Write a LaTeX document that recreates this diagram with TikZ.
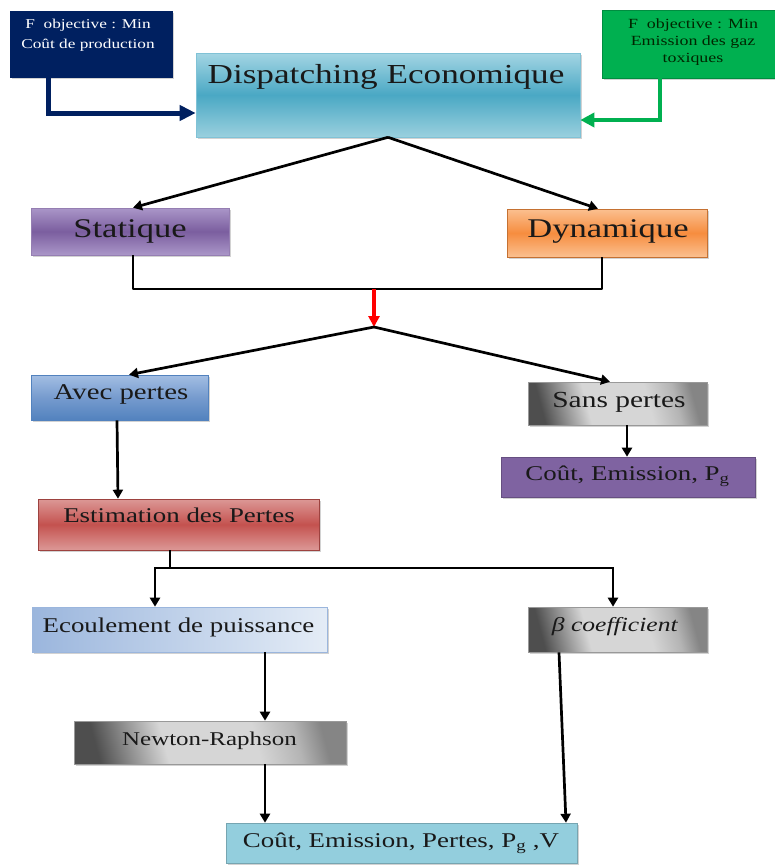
\documentclass[tikz,border=0pt]{standalone}
\usepackage{fontspec}
\setmainfont{Liberation Serif}[FakeStretch=1.28]
\usetikzlibrary{shadows,arrows.meta,calc}
\definecolor{navyc}{HTML}{002060}
\definecolor{greenc}{HTML}{00B050}
\definecolor{cyanL}{HTML}{A3D5E3}
\definecolor{cyanM}{HTML}{4AA8C4}
\definecolor{cyanB}{HTML}{9AD0DE}
\definecolor{purL}{HTML}{AA96C8}
\definecolor{purM}{HTML}{7B5E9F}
\definecolor{oraL}{HTML}{FBC090}
\definecolor{oraM}{HTML}{F68D3F}
\definecolor{bluL}{HTML}{A3BEE3}
\definecolor{bluM}{HTML}{769BCE}
\definecolor{bluB}{HTML}{5282BE}
\definecolor{redL}{HTML}{DC9896}
\definecolor{redM}{HTML}{C4524F}
\definecolor{ecoL}{HTML}{9BB6DD}
\definecolor{ecoR}{HTML}{E4ECF6}
\definecolor{cepc}{HTML}{7F63A1}
\definecolor{botc}{HTML}{93CEDD}
\definecolor{grayT}{HTML}{858585}
\definecolor{grayQ}{HTML}{B4B4B4}
\definecolor{grayC}{HTML}{D6D6D6}
\definecolor{grayP}{HTML}{8E8E8E}
\definecolor{grayD}{HTML}{4E4E4E}
\pgfdeclarehorizontalshading{grayshade}{100bp}{color(0bp)=(grayD); color(25bp)=(grayD);
  color(32bp)=(grayP); color(40bp)=(grayC); color(60bp)=(grayC); color(69bp)=(grayQ);
  color(75bp)=(grayT); color(100bp)=(grayT)}
\newcommand\myfs[1]{\fontsize{#1}{#1}\selectfont}
\begin{document}
\begin{tikzpicture}[x=1pt,y=-1pt,
  boxbase/.style={rectangle,inner sep=0pt,line width=0.6pt,
    drop shadow={shadow xshift=1.8pt,shadow yshift=-1.8pt,opacity=0.35}},
  graybox/.style={boxbase,draw=gray!80,shading=grayshade,shading angle=15},
  lbl/.style={inner sep=0pt,anchor=base,text=black!90},
  arr/.style={line width=2.7pt,black,-{Triangle[length=9pt,width=10pt]}},
  plain/.style={line width=2.7pt,black,line join=round},
  navyarr/.style={line width=5pt,navyc,-{Triangle[length=16pt,width=15pt]}},
  greenarr/.style={line width=4.5pt,greenc,-{Triangle[length=14pt,width=14pt]}},
  redarr/.style={line width=4pt,red,-{Triangle[length=11pt,width=11pt]}}]
\useasboundingbox (0,0) rectangle (774,865);
\fill[white] (0,0) rectangle (774,865);

% boxes
\node[boxbase,draw=navyc,fill=navyc,minimum width=162pt,minimum height=66pt] (navy) at (91,44) {};
\node[boxbase,draw=greenc!80!black,fill=greenc,minimum width=182pt,minimum height=68pt] (green) at (693,44) {};
\node[boxbase,draw=cyanM!70,top color=cyanL,bottom color=cyanB,middle color=cyanM,minimum width=384pt,minimum height=84pt] (main) at (388,95) {};
\node[boxbase,draw=purM!80,top color=purL,bottom color=purL,middle color=purM,minimum width=198pt,minimum height=47pt] (stat) at (130,231.5) {};
\node[boxbase,draw=oraM!80!black,top color=oraL,bottom color=oraL,middle color=oraM,minimum width=200pt,minimum height=48pt] (dyn) at (607,233) {};
\node[boxbase,draw=bluB,top color=bluL,bottom color=bluB,middle color=bluM,minimum width=177pt,minimum height=45pt] (avec) at (119.5,397.5) {};
\node[graybox,minimum width=179pt,minimum height=43pt] (sans) at (617.5,403.5) {};
\node[boxbase,draw=cepc!80!black,fill=cepc,minimum width=254pt,minimum height=40pt] (cep) at (628,477) {};
\node[boxbase,draw=redM!80!black,top color=redL,bottom color=redL,middle color=redM,minimum width=281pt,minimum height=51pt] (est) at (178.5,524.5) {};
\node[boxbase,draw=ecoL,left color=ecoL,right color=ecoR,minimum width=295pt,minimum height=45pt] (ecou) at (179.5,629.5) {};
\node[graybox,minimum width=179pt,minimum height=45pt] (beta) at (617.5,629.5) {};
\node[graybox,minimum width=272pt,minimum height=43pt] (newt) at (210,742.5) {};
\node[boxbase,draw=botc!80!black,fill=botc,minimum width=351pt,minimum height=40pt] (bot) at (401.5,843) {};

% labels
\node[lbl,text=white] (navyt1) at (88,28) {\myfs{13.5}F\ \ objective : Min};
\node[lbl,text=white] (navyt2) at (88,48) {\myfs{13.5}Coût de production};
\node[lbl,text=black!85!green] (greent1) at (693,28) {\myfs{14}F\ \ objective : Min};
\node[lbl,text=black!85!green] (greent2) at (693,45) {\myfs{14}Emission des gaz};
\node[lbl,text=black!85!green] (greent3) at (693,62) {\myfs{14}toxiques};
\node[lbl] (maint) at (386,83) {\myfs{27.5}Dispatching Economique};
\node[lbl] (statt) at (130,237) {\myfs{27}Statique};
\node[lbl] (dynt) at (608,237) {\myfs{27}Dynamique};
\node[lbl] (avect) at (121,399) {\myfs{22.5}Avec pertes};
\node[lbl] (sanst) at (619,407) {\myfs{23}Sans pertes};
\node[lbl] (cept) at (627.5,480) {\myfs{21}Coût, Emission, P\textsubscript{g}};
\node[lbl] (estt) at (179,522) {\myfs{21}Estimation des Pertes};
\node[lbl] (ecout) at (178.5,632) {\myfs{21}Ecoulement de puissance};
\node[lbl] (betat) at (615,631) {\myfs{20}\textit{β coef{}f{}icient}};
\node[lbl] (newtt) at (209.5,745) {\myfs{19.5}Newton-Raphson};
\node[lbl] (bott) at (401,847) {\myfs{21}Coût, Emission, Pertes, P\textsubscript{g} ,V};

% junction coordinates
\coordinate (jL) at (133,289);
\coordinate (jR) at (602,289);
\coordinate (jM) at (374,289);
\coordinate (apex) at (374,327);
\coordinate (b1) at (170,568);

% connectors
\draw[navyarr] (navy.south -| 48,0) |- (main.west |- 0,113);
\draw[greenarr] (green.south -| 660,0) |- (main.east |- 0,120);
\draw[arr] (main.south) -- (stat.north -| 133,0);
\draw[arr] (main.south) -- (dyn.north -| 598,0);
\draw[plain] (stat.south -| jL) -- (jL) -- (jR) -- (dyn.south -| jR);
\draw[redarr] (jM) -- (apex);
\draw[arr] (apex) -- (avec.north -| 129,0);
\draw[arr] (apex) -- (sans.north -| 610,0);
\draw[arr] (sans.south -| 627,0) -- (cep.north -| 627,0);
\draw[arr] (avec.south -| 117,0) -- (est.north -| 118,0);
\draw[plain] (est.south -| b1) -- (b1);
\draw[arr] (b1) -| (ecou.north -| 155,0);
\draw[arr] (b1) -| (beta.north -| 613,0);
\draw[arr] (ecou.south -| 265,0) -- (newt.north -| 265,0);
\draw[arr] (newt.south -| 265,0) -- (bot.north -| 265,0);
\draw[arr] (beta.south -| 559,0) -- (bot.north -| 566,0);
\end{tikzpicture}
\end{document}
